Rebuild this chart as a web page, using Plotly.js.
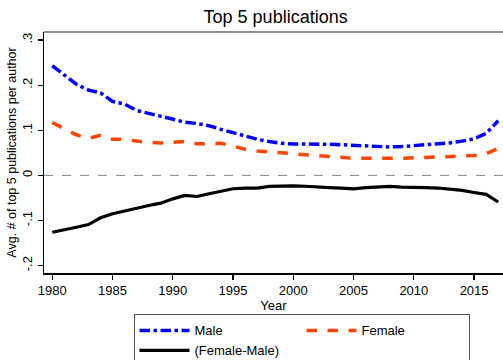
<!DOCTYPE html>
<html>
<head>
<meta charset="utf-8">
<script src="https://cdn.plot.ly/plotly-3.0.1.min.js"></script>
<style>html,body{margin:0;padding:0;background:#fff;}#chart{width:503px;height:360px;}</style>
</head>
<body>
<div id="chart"></div>
<script>
const years = [1980,1981,1982,1983,1984,1985,1986,1987,1988,1989,1990,1991,1992,1993,1994,1995,1996,1997,1998,1999,2000,2001,2002,2003,2004,2005,2006,2007,2008,2009,2010,2011,2012,2013,2014,2015,2016,2017];
const male = [0.243,0.222,0.202,0.189,0.183,0.164,0.158,0.144,0.137,0.131,0.124,0.118,0.115,0.110,0.102,0.094,0.087,0.080,0.075,0.071,0.0696,0.0696,0.070,0.069,0.068,0.0667,0.065,0.064,0.063,0.064,0.066,0.067,0.069,0.072,0.076,0.081,0.093,0.121];
const female = [0.117,0.104,0.090,0.082,0.089,0.080,0.080,0.076,0.073,0.072,0.074,0.075,0.070,0.070,0.071,0.065,0.058,0.054,0.052,0.0496,0.0467,0.0444,0.043,0.0415,0.040,0.0378,0.0378,0.0378,0.037,0.038,0.039,0.040,0.040,0.0415,0.043,0.044,0.048,0.060];
const diff = [-0.126,-0.121,-0.115,-0.109,-0.094,-0.085,-0.0785,-0.072,-0.0667,-0.0615,-0.052,-0.0444,-0.0467,-0.0407,-0.035,-0.0296,-0.028,-0.028,-0.0244,-0.023,-0.023,-0.024,-0.026,-0.027,-0.028,-0.030,-0.027,-0.025,-0.0244,-0.026,-0.026,-0.027,-0.028,-0.030,-0.0333,-0.0378,-0.042,-0.059];
const seriesNames = ["Male","Female","(Female-Male)"];
const xTicks = [1980,1985,1990,1995,2000,2005,2010,2015];
const yTickVals = [-0.2,-0.1,0,0.1,0.2,0.3];
const yTickText = ["-.2","-.1","0",".1",".2",".3"];

const FONT = "Liberation Sans, Arial, Helvetica, sans-serif";

const traces = [
  {x: years, y: male, name: seriesNames[0], mode: "lines", line: {color: "#0000ff", width: 3.5, dash: "dashdot"}},
  {x: years, y: female, name: seriesNames[1], mode: "lines", line: {color: "#ff4500", width: 3.5, dash: "dash"}},
  {x: years, y: diff, name: seriesNames[2], mode: "lines", line: {color: "#000000", width: 3.2}}
];

const layout = {
  width: 503, height: 360,
  margin: {l: 44, r: 0, t: 32, b: 87, pad: 0, autoexpand: false},
  paper_bgcolor: "#fff", plot_bgcolor: "#fff",
  font: {family: FONT, size: 13, color: "#000"},
  title: {text: "Top 5 publications", font: {family: FONT, size: 18, color: "#000"}, x: 0.548, xanchor: "center", y: 1 - 17/360, yanchor: "middle", yref: "container"},
  xaxis: {
    range: [1979.31, 2017.4], tickvals: xTicks, ticks: "outside", ticklen: 5, tickwidth: 1.2, tickcolor: "#000",
    showline: true, linecolor: "#000", linewidth: 1.5, showgrid: false, zeroline: false, automargin: false,
    tickfont: {family: FONT, size: 13},
    title: {text: "Year", font: {family: FONT, size: 13}, standoff: 1}
  },
  yaxis: {
    range: [-0.2163, 0.3178], tickvals: yTickVals, ticktext: yTickText, ticks: "outside", ticklen: 5, tickwidth: 1.2, tickcolor: "#000",
    tickangle: -90, showline: true, linecolor: "#000", linewidth: 1.5, showgrid: false, zeroline: false, automargin: false,
    tickfont: {family: FONT, size: 13},
    title: {text: "Avg. # of top 5 publications per author", font: {family: FONT, size: 12.5}, standoff: 1}
  },
  shapes: [
    {type: "line", xref: "paper", yref: "y", x0: 0, x1: 1, y0: 0, y1: 0, line: {color: "#888", width: 1, dash: "dash"}, layer: "below"},
    {type: "line", xref: "paper", yref: "paper", x0: 0, x1: 1, y0: 1, y1: 1, line: {color: "#666", width: 1.5}}
  ],
  showlegend: true,
  legend: {
    orientation: "h", x: 0.195, xanchor: "left", y: -0.172, yanchor: "top",
    bordercolor: "#555", borderwidth: 1, bgcolor: "#fff",
    font: {family: FONT, size: 13}, entrywidth: 102, entrywidthmode: "pixels",
    itemwidth: 50, tracegroupgap: 0
  }
};

Plotly.newPlot("chart", traces, layout, {displayModeBar: false, staticPlot: true});
</script>
</body>
</html>
